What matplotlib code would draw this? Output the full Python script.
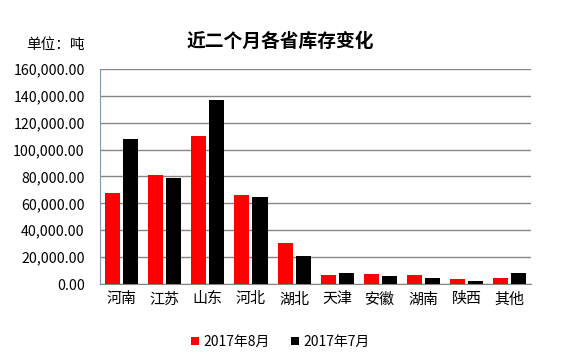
import numpy as np
import matplotlib.pyplot as plt
from matplotlib.ticker import FuncFormatter

plt.rcParams['font.family'] = ['Noto Sans CJK SC', 'DejaVu Sans']

# data
provinces = ['河南', '江苏', '山东', '河北', '湖北', '天津', '安徽', '湖南', '陕西', '其他']
aug = [67500, 81100, 110100, 66200, 30500, 6700, 7400, 6700, 3700, 4500]
jul = [107900, 78900, 136900, 64700, 20800, 8200, 5950, 4500, 2200, 8200]
labels = ['2017年8月', '2017年7月']

fig = plt.figure(figsize=(5.75, 3.55), dpi=100)
ax = fig.add_axes([0.174, 0.2, 0.75, 0.606])

x = np.arange(len(provinces))
w = 0.35
ax.bar(x - 0.21, aug, w, color='#ff0000', label=labels[0], zorder=3)
ax.bar(x + 0.21, jul, w, color='#000000', label=labels[1], zorder=3)

ax.set_xlim(-0.5, len(provinces) - 0.5)
ax.set_ylim(0, 160000)
ax.set_yticks(np.arange(0, 160001, 20000))
ax.yaxis.set_major_formatter(FuncFormatter(lambda v, p: '{:,.2f}'.format(v)))
ax.set_xticks(x)
ax.set_xticklabels(provinces, fontsize=10.8)
ax.tick_params(axis='x', length=0, pad=6)
ax.tick_params(axis='y', length=0, pad=11, labelsize=10.2)

ax.grid(axis='y', color='#868686', linewidth=1, zorder=0)
for s in ['top', 'right']:
    ax.spines[s].set_visible(False)
ax.spines['left'].set_color('#8497b0')
ax.spines['bottom'].set_color('#868686')

fig.text(0.487, 0.882, '近二个月各省库存变化', ha='center', va='center',
         fontsize=13.5, fontweight='bold')
fig.text(0.045, 0.873, '单位：吨', ha='left', va='center', fontsize=10.5)

fig.legend(loc='center', bbox_to_anchor=(0.487, 0.037), ncol=2, frameon=False,
           fontsize=10, handlelength=0.6, handleheight=0.6, handletextpad=0.3,
           columnspacing=1.5)

fig.savefig('out.png', dpi=100)
